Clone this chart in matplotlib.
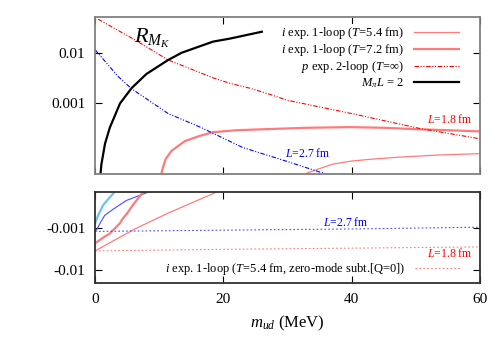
import numpy as np
import matplotlib
matplotlib.use("Agg")
import matplotlib.pyplot as plt

plt.rcParams['font.family'] = ['Liberation Serif', 'DejaVu Serif']
plt.rcParams['mathtext.fontset'] = 'custom'
plt.rcParams['mathtext.rm'] = 'Liberation Serif'
plt.rcParams['mathtext.it'] = 'Liberation Serif:italic'

# ---- upper panel: R_MK (log scale) ----
m_black = [0.7, 1.0, 1.56, 2.3, 3.9, 5.7, 8.0, 11.4, 13.5, 18.4, 21.0, 26.0]
r_black = [2.5e-5, 6.3e-5, 1.6e-4, 3.3e-4, 1.0e-3, 2.0e-3, 3.8e-3, 7.2e-3, 1.0e-2, 1.66e-2, 1.9e-2, 2.6e-2]

m_p18 = [0.5, 6.2, 11.4, 18.4, 21.0, 24.1, 27.3, 30.0, 40.0, 50.6, 60.0]
r_p18 = [4.6e-2, 1.8e-2, 7.2e-3, 3.2e-3, 2.5e-3, 2.0e-3, 1.5e-3, 1.15e-3, 6.3e-4, 3.2e-4, 2.0e-4]

m_p27 = [0.0, 3.6, 5.7, 11.4, 16.4, 23.0, 30.0, 36.6, 40.0]
r_p27 = [1.15e-2, 3.4e-3, 1.95e-3, 6.3e-4, 3.4e-4, 1.35e-4, 7.1e-5, 3.8e-5, 2.8e-5]

m_t72 = [10.2, 10.5, 11.0, 11.9, 14.0, 16.4, 18.4, 22.0, 26.7, 33.0, 39.7, 45.0, 50.0, 55.0, 60.0]
r_t72 = [3.2e-5, 5.0e-5, 7.9e-5, 1.15e-4, 1.8e-4, 2.3e-4, 2.7e-4, 2.95e-4, 3.1e-4, 3.3e-4, 3.4e-4,
         3.3e-4, 3.1e-4, 2.95e-4, 2.8e-4]

m_t54 = [32.5, 33.0, 34.5, 37.0, 39.7, 43.0, 47.5, 53.0, 60.0]
r_t54 = [3.2e-5, 4.2e-5, 4.9e-5, 6.3e-5, 7.2e-5, 7.9e-5, 8.7e-5, 9.5e-5, 1.02e-4]

# ---- lower panel: negative values ----
m_cyan = [0.0, 0.5, 1.3, 2.0, 3.1, 4.0]
r_cyan = [-7.8e-4, -4.9e-4, -2.8e-4, -2.1e-4, -1.35e-4, -1.0e-4]

m_blue = [0.0, 0.3, 0.8, 1.5, 2.9, 4.9, 8.0, 10.0]
r_blue = [-1.23e-3, -1.07e-3, -7.6e-4, -5.0e-4, -3.5e-4, -2.2e-4, -1.45e-4, -1.2e-4]

m_red_thick = [0.0, 1.5, 2.3, 3.9, 4.3, 4.9, 6.0, 7.5, 8.5]
r_red_thick = [-2.3e-3, -1.6e-3, -1.35e-3, -7.6e-4, -6.0e-4, -4.7e-4, -2.7e-4, -1.38e-4, -1.0e-4]

m_red_thin = [0.0, 6.2, 11.4, 19.0, 21.0]
r_red_thin = [-3.5e-3, -1.05e-3, -4.4e-4, -1.38e-4, -1.07e-4]

m_zm = [0.0, 20.0, 40.0, 60.0]
r_zm27 = [-1.2e-3, -1.12e-3, -1.05e-3, -9.5e-4]
r_zm18 = [-3.5e-3, -3.2e-3, -3.0e-3, -2.8e-3]

xticks = [0, 20, 40, 60]

salmon = '#ff7b7b'
dashdot = (0, (4, 1.5, 1, 1.5, 1, 1.5))

fig = plt.figure(figsize=(5, 3.5), dpi=100)
ax1 = fig.add_axes([0.19, 0.502, 0.77, 0.450])
ax2 = fig.add_axes([0.19, 0.191, 0.77, 0.261])

# upper
ax1.plot(m_t54, r_t54, color=salmon, lw=0.9, label=r'$i$ exp. 1-loop ($T$=5.4 fm)')
ax1.plot(m_t72, r_t72, color=salmon, lw=1.6, label=r'$i$ exp. 1-loop ($T$=7.2 fm)')
ax1.plot(m_p18, r_p18, color='red', lw=0.8, ls=dashdot, label=r'$p$ exp. 2-loop ($T$=$\infty$)')
ax1.plot(m_black, r_black, color='black', lw=1.6, label=r'$M_\pi L$ = 2')
ax1.plot(m_p27, r_p27, color='blue', lw=0.8, ls=dashdot)
ax1.set_yscale('log')
ax1.set_xlim(0, 60)
ax1.set_ylim(10**-4.40, 10**-1.29)
ax1.set_yticks([0.01, 0.001], ['0.01', '0.001'])
ax1.minorticks_off()
ax1.set_xticks(xticks)
ax1.tick_params(labelbottom=False)
leg = ax1.legend(loc='upper right', bbox_to_anchor=(0.948, 0.955), markerfirst=False,
                 frameon=True, fancybox=False, edgecolor='none', framealpha=1,
                 fontsize=9, handlelength=3.6, handletextpad=0.8, labelspacing=0.08,
                 borderpad=0.1, borderaxespad=0)
ax1.text(0.10, 0.86, r'$R_{M_K}$', transform=ax1.transAxes, fontsize=16, va='center')
ax1.text(0.922, 0.345, r'$L$=1.8 fm', transform=ax1.transAxes, color='red', fontsize=8.5, ha='center', va='center')
ax1.text(0.553, 0.135, r'$L$=2.7 fm', transform=ax1.transAxes, color='blue', fontsize=8.5, ha='center', va='center')

# lower
ax2.plot(m_cyan, np.negative(r_cyan), color='#6cc4e4', lw=1.6)
ax2.plot(m_blue, np.negative(r_blue), color='#4b4bff', lw=0.8)
ax2.plot(m_red_thick, np.negative(r_red_thick), color=salmon, lw=1.6)
ax2.plot(m_red_thin, np.negative(r_red_thin), color=salmon, lw=0.9)
ax2.plot(m_zm, np.negative(r_zm27), color='#4b4bff', lw=0.8, ls=(0, (1.5, 2)))
ax2.plot(m_zm, np.negative(r_zm18), color=salmon, lw=0.8, ls=(0, (1.5, 2)),
         label=r'$i$ exp. 1-loop ($T$=5.4 fm, zero-mode subt.[Q=0])')
ax2.set_yscale('log')
ax2.set_xlim(0, 60)
ax2.set_ylim(2.04e-2, 1.37e-4)
ax2.set_yticks([0.001, 0.01], ['-0.001', '-0.01'])
ax2.minorticks_off()
ax2.set_xticks(xticks)
ax2.legend(loc='lower right', bbox_to_anchor=(0.948, 0.065), markerfirst=False,
           frameon=False, fontsize=9, handlelength=3.6, handletextpad=0.8,
           borderpad=0, borderaxespad=0)
ax2.text(0.652, 0.668, r'$L$=2.7 fm', transform=ax2.transAxes, color='blue', fontsize=8.5, ha='center', va='center')
ax2.text(0.922, 0.33, r'$L$=1.8 fm', transform=ax2.transAxes, color='red', fontsize=8.5, ha='center', va='center')
ax2.set_xlabel(r'$m_{ud}$ (MeV)', fontsize=12, labelpad=6)

for ax, fc in ((ax1, '#808080'), (ax2, '#303030')):
    for s in ax.spines.values():
        s.set_color(fc)
        s.set_linewidth(1.3)
    ax.tick_params(direction='in', length=5, width=0.8, top=True, right=True,
                   labelsize=11, pad=7)

fig.savefig('out.png', dpi=100)
